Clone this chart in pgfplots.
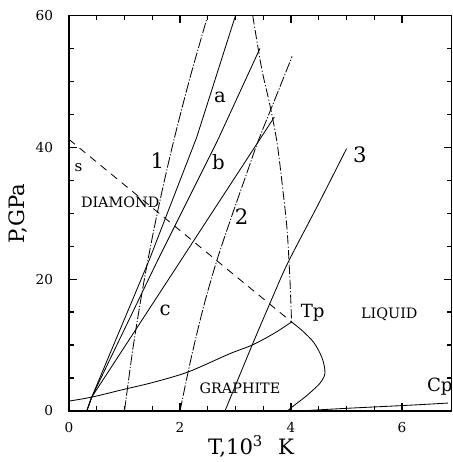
\documentclass[border=0pt]{standalone}
\usepackage{fontspec}
\setmainfont{DejaVu Serif}
\usepackage{pgfplots}
\pgfplotsset{compat=1.18}
\begin{document}
\begin{tikzpicture}
\begin{axis}[
  scale only axis, width=252.45pt, height=261.03pt,
  xmin=0, xmax=6.89, ymin=0, ymax=60,
  xtick={0,2,4,6}, minor x tick num=3,
  ytick={0,20,40,60}, minor y tick num=3,
  tick align=inside, major tick length=5pt, minor tick length=3pt,
  tick style={black, line width=0.8pt},
  axis line style={line width=0.8pt},
  tick label style={font=\fontsize{9}{10}\selectfont},
  /pgf/number format/assume math mode=true,
  xticklabel style={yshift=-4pt},
  yticklabel style={xshift=-7pt},
  xlabel={T,10\textsuperscript{3}\hspace{0.7em}K},
  ylabel={P,GPa},
  xlabel style={at={(axis description cs:0.476,-0.109)}, anchor=base, font=\fontsize{14}{16}\selectfont},
  ylabel style={at={(axis description cs:-0.1335,0.5)}, anchor=center, font=\fontsize{14}{16}\selectfont},
  cycle list={{black,solid,mark=none}},
  every axis plot/.append style={black, line width=0.55pt, mark=none},
]
% line 1 (dash-dot)
\addplot[smooth, dash pattern=on 7pt off 1.2pt on 0.8pt off 1.2pt] coordinates {(1.0,0) (1.161,10) (1.358,20) (1.59,30) (1.858,40) (2.162,50) (2.5,60)};
% line 2
\addplot[smooth, dash pattern=on 7pt off 1.2pt on 0.8pt off 1.2pt] coordinates {(2.0,0) (2.2,8) (2.43,16) (2.67,23) (2.95,30) (3.2,36) (3.41,41) (3.72,47.5) (4.02,53.8)};
% line 3
\addplot[smooth] coordinates {(2.81,0) (3.3,10) (3.68,17.5) (3.95,22.6) (4.5,31.5) (5.0,39.8)};
% fan line a
\addplot[] coordinates {(0.32,0) (0.41,2.1) (1.45,23) (2.3,41.5) (3.0,60)};
% fan line b
\addplot[] coordinates {(0.32,0) (0.41,2.1) (1.6,22.9) (2.68,41.1) (3.44,55)};
% fan line c
\addplot[] coordinates {(0.32,0) (0.41,2.1) (3.70,44.6)};
% melting curve diamond (dash-dot)
\addplot[smooth, dash pattern=on 6pt off 1.5pt on 0.8pt off 1.5pt] coordinates {(3.31,60) (3.47,52) (3.62,46.4) (3.75,40.6) (3.86,33) (3.93,27.4) (3.98,20) (4.01,13.5)};
% dashed metastable line
\addplot[dash pattern=on 5pt off 4pt] coordinates {(0,41.2) (4.01,13.5)};
% graphite-diamond boundary
\addplot[smooth] coordinates {(0,1.5) (0.41,2.1) (1.0,3.3) (1.5,4.3) (2.14,5.9) (2.9,8.7) (3.3,10.0) (3.7,11.8) (4.01,13.5)};
% graphite melting
\addplot[smooth] coordinates {(4.01,13.5) (4.2,12.2) (4.4,10.5) (4.52,8.8) (4.58,7.5) (4.61,6.2) (4.6,5.3) (4.52,4.2) (4.4,3.2) (4.25,2.1) (4.08,1.0) (3.93,0)};
% vapor curve
\addplot[smooth] coordinates {(4.35,0.1) (5.0,0.4) (5.6,0.65) (6.2,0.9) (6.83,1.2)};
% labels
\node[anchor=base, font=\fontsize{13}{15}\selectfont] at (axis cs:2.72,46.8) {a};
\node[anchor=base, font=\fontsize{13}{15}\selectfont] at (axis cs:2.69,36.6) {b};
\node[anchor=base, font=\fontsize{13}{15}\selectfont] at (axis cs:1.73,14.5) {c};
\node[anchor=base, font=\fontsize{14}{16}\selectfont] at (axis cs:1.59,36.8) {1};
\node[anchor=base, font=\fontsize{14}{16}\selectfont] at (axis cs:3.11,28.3) {2};
\node[anchor=base, font=\fontsize{14}{16}\selectfont] at (axis cs:5.24,37.7) {3};
\node[anchor=base, font=\fontsize{10}{12}\selectfont] at (axis cs:0.17,36.3) {s};
\node[anchor=base west, font=\fontsize{9.5}{11}\selectfont] at (axis cs:0.12,30.9) {DIAMOND};
\node[anchor=base, font=\fontsize{9.5}{11}\selectfont] at (axis cs:3.08,2.7) {GRAPHITE};
\node[anchor=base, font=\fontsize{9.5}{11}\selectfont] at (axis cs:5.77,14.1) {LIQUID};
\node[anchor=base, font=\fontsize{12}{14}\selectfont] at (axis cs:4.39,14.2) {Tp};
\node[anchor=base, font=\fontsize{12}{14}\selectfont] at (axis cs:6.68,3.0) {Cp};
\end{axis}
\path (-45.54pt,-33.66pt) rectangle (253.44pt,271.26pt);
\end{tikzpicture}
\end{document}
